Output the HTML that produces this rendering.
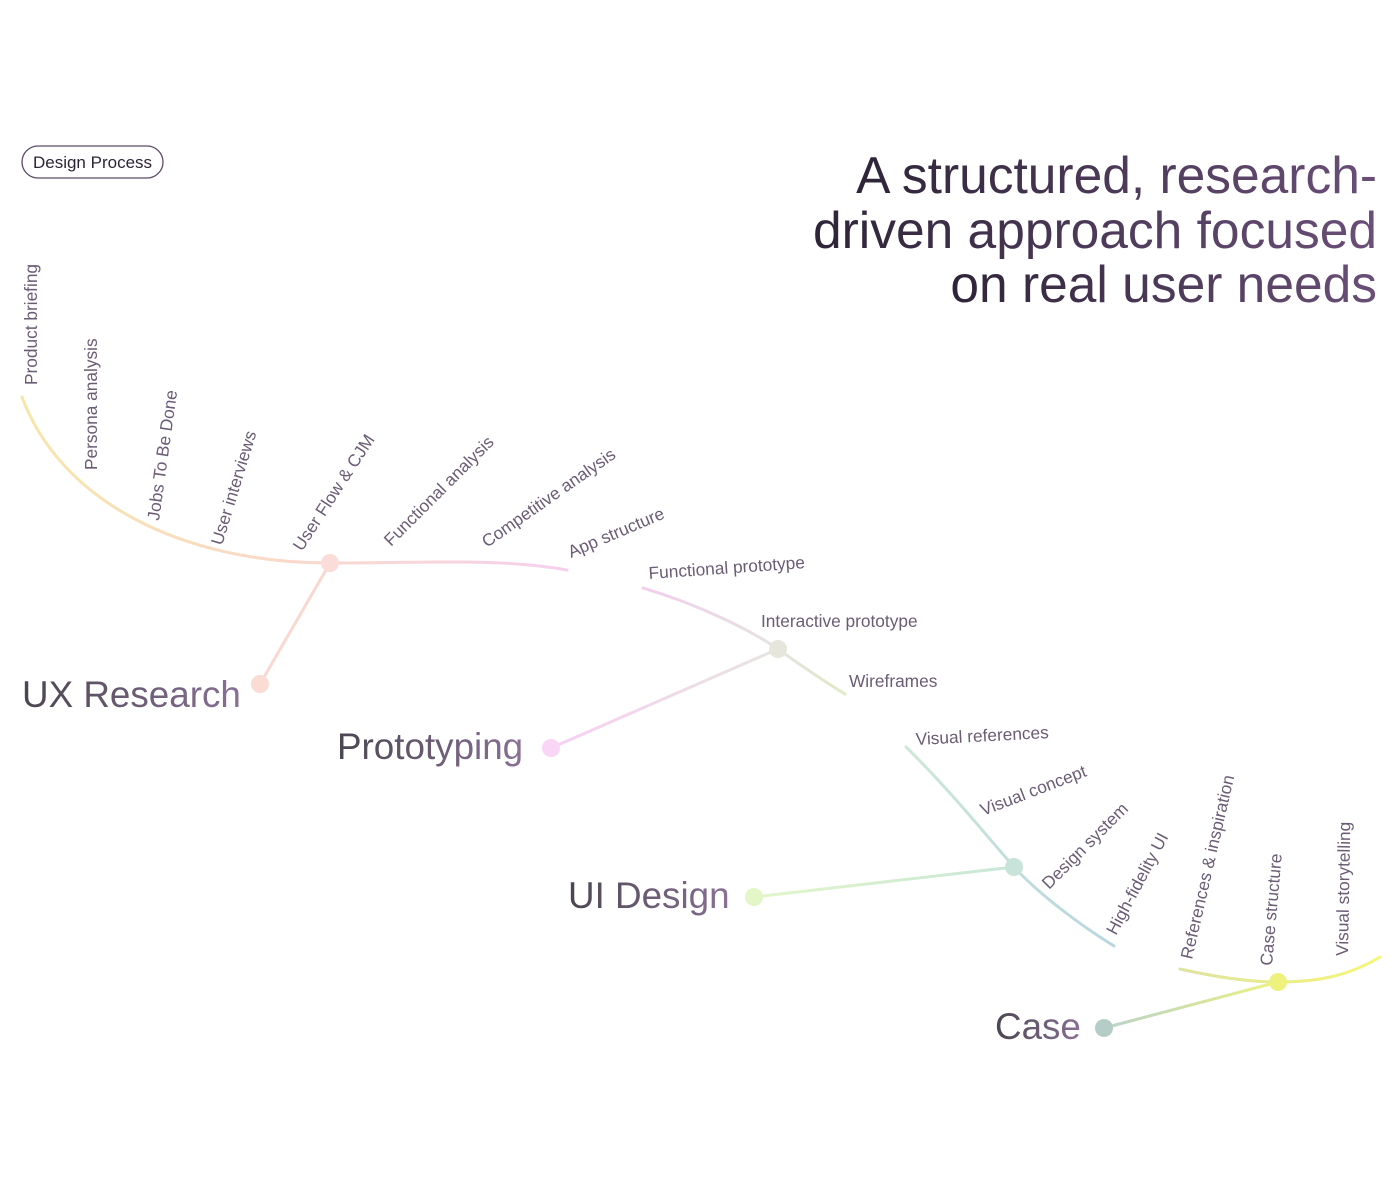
<!DOCTYPE html>
<html><head><meta charset="utf-8"><style>
html,body{margin:0;padding:0;background:#fff;width:1400px;height:1185px;overflow:hidden}
svg{display:block}
text{font-family:"Liberation Sans",sans-serif}
</style></head><body>
<svg width="1400" height="1185" viewBox="0 0 1400 1185" xmlns="http://www.w3.org/2000/svg">
<defs>
<linearGradient id="tg" x1="0" x2="1"><stop offset="0" stop-color="#2e2438"/><stop offset="1" stop-color="#6a4f78"/></linearGradient>
<linearGradient id="lg" x1="0" x2="1"><stop offset="0" stop-color="#4a4650"/><stop offset="1" stop-color="#8a7096"/></linearGradient>
<linearGradient id="g1" gradientUnits="userSpaceOnUse" x1="22" y1="397" x2="567" y2="570"><stop offset="0" stop-color="#f7e6a8"/><stop offset="0.55" stop-color="#f9d8cc"/><stop offset="1" stop-color="#f6d0ee"/></linearGradient>
<linearGradient id="g2" gradientUnits="userSpaceOnUse" x1="643" y1="588" x2="845" y2="694"><stop offset="0" stop-color="#f3cdee"/><stop offset="0.6" stop-color="#e6e2e0"/><stop offset="1" stop-color="#dfeac8"/></linearGradient>
<linearGradient id="g3" gradientUnits="userSpaceOnUse" x1="906" y1="747" x2="1114" y2="946"><stop offset="0" stop-color="#cde8d6"/><stop offset="1" stop-color="#b8d6e0"/></linearGradient>
<linearGradient id="g4" gradientUnits="userSpaceOnUse" x1="1180" y1="969" x2="1380" y2="957"><stop offset="0" stop-color="#dfe3a0"/><stop offset="1" stop-color="#f6f67a"/></linearGradient>
<linearGradient id="b2" gradientUnits="userSpaceOnUse" x1="551" y1="748" x2="778" y2="649"><stop offset="0" stop-color="#f8d0f4"/><stop offset="1" stop-color="#e6e4de"/></linearGradient>
<linearGradient id="b3" gradientUnits="userSpaceOnUse" x1="754" y1="897" x2="1014" y2="867"><stop offset="0" stop-color="#e2f6c8"/><stop offset="1" stop-color="#c8e6d8"/></linearGradient>
<linearGradient id="b4" gradientUnits="userSpaceOnUse" x1="1104" y1="1028" x2="1278" y2="982"><stop offset="0" stop-color="#b8d2c8"/><stop offset="1" stop-color="#ecf284"/></linearGradient>
</defs>

<rect x="22" y="146" width="141" height="32" rx="16" fill="none" stroke="#5a4a66" stroke-width="1.3"/>
<text x="92.5" y="168" font-size="17" fill="#2e2438" text-anchor="middle">Design Process</text>

<g font-size="51.5" fill="url(#tg)" text-anchor="end">
<text x="1377" y="193">A structured, research-</text>
<text x="1377" y="248">driven approach focused</text>
<text x="1377" y="302">on real user needs</text>
</g>

<g fill="none" stroke-width="3" stroke-linecap="round">
<path d="M22,397 C60,500 180,563 330,563 C430,563 500,558 567,570" stroke="url(#g1)"/>
<path d="M330,563 L260,684" stroke="#f9d8d0"/>
<path d="M643,588 C700,605 750,630 778,649 C800,665 830,685 845,694" stroke="url(#g2)"/>
<path d="M778,649 L551,748" stroke="url(#b2)"/>
<path d="M906,747 C950,790 990,840 1014,867 C1040,895 1080,925 1114,946" stroke="url(#g3)"/>
<path d="M1014,867 L754,897" stroke="url(#b3)"/>
<path d="M1180,969 C1220,978 1250,982 1278,982 C1320,982 1350,975 1380,957" stroke="url(#g4)"/>
<path d="M1278,982 L1104,1028" stroke="url(#b4)"/>
</g>
<circle cx="330" cy="563" r="9" fill="#fadcd8"/>
<circle cx="260" cy="684" r="9" fill="#fadcd4"/>
<circle cx="778" cy="649" r="9" fill="#e6e6dc"/>
<circle cx="551" cy="748" r="9" fill="#f9d6f6"/>
<circle cx="1014" cy="867" r="9" fill="#c8e4da"/>
<circle cx="754" cy="897" r="9" fill="#e2f6c8"/>
<circle cx="1278" cy="982" r="9" fill="#eef27c"/>
<circle cx="1104" cy="1028" r="9" fill="#b6ccc6"/>

<g font-size="36.8" fill="url(#lg)">
<text x="22" y="707">UX Research</text>
<text x="337" y="759">Prototyping</text>
<text x="568" y="908">UI Design</text>
<text x="995" y="1039">Case</text>
</g>

<g font-size="17.3" fill="#6a5c74">
<text transform="translate(37,385) rotate(-90)">Product briefing</text>
<text transform="translate(97,470) rotate(-90)">Persona analysis</text>
<text transform="translate(159,521) rotate(-82)">Jobs To Be Done</text>
<text transform="translate(222,546) rotate(-73)">User interviews</text>
<text transform="translate(302,552) rotate(-57)">User Flow &amp; CJM</text>
<text transform="translate(391,547) rotate(-45)">Functional analysis</text>
<text transform="translate(487,548) rotate(-35)">Competitive analysis</text>
<text transform="translate(571,558) rotate(-23)">App structure</text>
<text transform="translate(649,579) rotate(-4)">Functional prototype</text>
<text x="761" y="627">Interactive prototype</text>
<text x="849" y="687">Wireframes</text>
<text transform="translate(916,745) rotate(-3)">Visual references</text>
<text transform="translate(983,816) rotate(-21)">Visual concept</text>
<text transform="translate(1049,890) rotate(-45)">Design system</text>
<text transform="translate(1116,936) rotate(-62)">High-fidelity UI</text>
<text transform="translate(1192,960) rotate(-77)">References &amp; inspiration</text>
<text transform="translate(1272,966) rotate(-85)">Case structure</text>
<text transform="translate(1348,956) rotate(-89)">Visual storytelling</text>
</g>
</svg>
</body></html>
